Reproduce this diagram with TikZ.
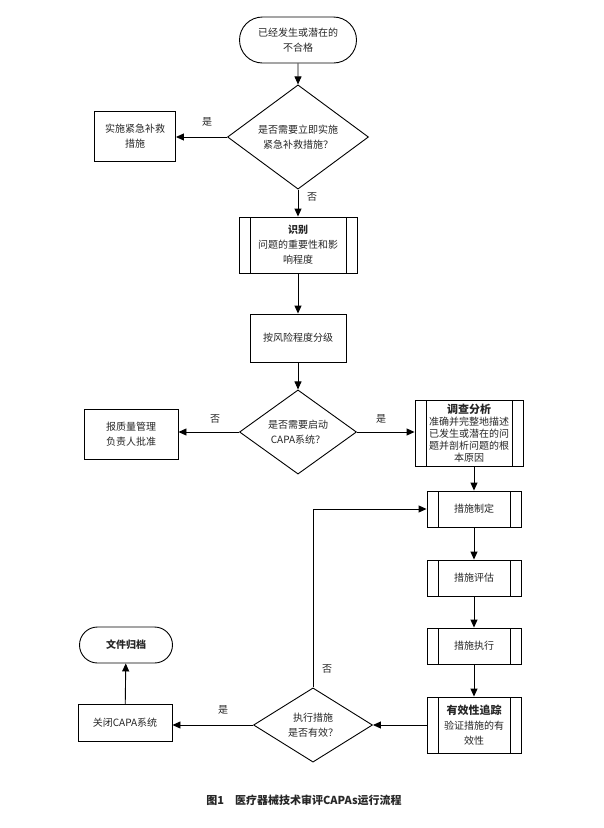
\documentclass[tikz,border=0pt]{standalone}
\usepackage{fontspec}
\setmainfont{Noto Sans CJK SC}
\usetikzlibrary{arrows.meta,shapes.geometric,shapes.misc}

\tikzset{
  every node/.style={font=\fontsize{10}{15}\selectfont, text=black!85},
  flow/.style={line width=0.9pt, -{Triangle[length=8pt,width=7pt]}},
  term/.style={draw, line width=0.9pt, rounded rectangle, align=center, inner sep=0pt},
  decide/.style={draw, line width=0.9pt, diamond, align=center, inner sep=0pt},
  box/.style={draw, line width=0.9pt, align=center, inner sep=0pt},
  procbox/.style={box, path picture={
      \draw[line width=0.9pt] ([xshift=11pt]path picture bounding box.north west) -- ([xshift=11pt]path picture bounding box.south west);
      \draw[line width=0.9pt] ([xshift=-11pt]path picture bounding box.north east) -- ([xshift=-11pt]path picture bounding box.south east);}},
  lbl/.style={font=\fontsize{10}{12}\selectfont}
}

\begin{document}
\begin{tikzpicture}[x=1pt,y=-1pt]
\useasboundingbox (0,0) rectangle (604,828);

\node[term, minimum width=117pt, minimum height=46pt] (start) at (298,40) {已经发生或潜在的\\不合格};
\node[decide, minimum width=141pt, minimum height=82pt] (urgent) at (298,137) {是否需要立即实施\\紧急补救措施？};
\node[box, minimum width=81pt, minimum height=50pt] (remedy) at (135,136) {实施紧急补救\\措施};
\node[procbox, minimum width=118pt, minimum height=56pt] (ident) at (298,245) {\textbf{识别}\\问题的重要性和影\\响程度};
\node[box, minimum width=96pt, minimum height=48pt] (grade) at (298,338) {按风险程度分级};
\node[decide, minimum width=117pt, minimum height=77pt] (launch) at (298,432) {是否需要启动\\CAPA系统？};
\node[box, minimum width=94pt, minimum height=50pt] (report) at (131,434) {报质量管理\\负责人批准};
\node[procbox, minimum width=108pt, minimum height=66pt, font=\fontsize{10}{12}\selectfont] (invest) at (469,433) {\textbf{\fontsize{11}{13}\selectfont 调查分析}\\准确并完整地描述\\已发生或潜在的问\\题并剖析问题的根\\本原因};
\node[procbox, minimum width=94pt, minimum height=36pt] (plan) at (474,509) {措施制定};
\node[procbox, minimum width=94pt, minimum height=36pt] (assess) at (474,578) {措施评估};
\node[procbox, minimum width=94pt, minimum height=36pt] (exec) at (474,646) {措施执行};
\node[procbox, minimum width=94pt, minimum height=56pt] (track) at (474,725) {\textbf{\fontsize{11}{14}\selectfont 有效性追踪}\\验证措施的有\\效性};
\node[decide, minimum width=119pt, minimum height=70pt] (valid) at (313,725) {执行措施\\是否有效？};
\node[box, minimum width=94pt, minimum height=37pt] (close) at (125,723) {关闭CAPA系统};
\node[term, minimum width=93pt, minimum height=36pt] (archive) at (126,645) {\textbf{文件归档}};

\node[lbl] (yes1) at (207,122) {是};
\node[lbl] (no1) at (312,197) {否};
\node[lbl] (no2) at (215,419) {否};
\node[lbl] (yes2) at (381,419) {是};
\node[lbl] (no3) at (327,669) {否};
\node[lbl] (yes3) at (223,710) {是};

\draw[flow] (start) -- (urgent);
\draw[flow] (urgent.west) -- (urgent.west -| remedy.east);
\draw[flow] (urgent) -- (ident);
\draw[flow] (ident) -- (grade);
\draw[flow] (grade) -- (launch);
\draw[flow] (launch.west) -- (launch.west -| report.east);
\draw[flow] (launch.east) -- (launch.east -| invest.west);
\draw[flow] (plan.north |- invest.south) -- (plan);
\draw[flow] (plan) -- (assess);
\draw[flow] (assess) -- (exec);
\draw[flow] (exec) -- (track);
\draw[flow] (track) -- (valid);
\draw[flow] (valid.west) -- (valid.west -| close.east);
\draw[flow] (close) -- (archive);
\draw[flow] (valid.north) |- (plan.west);

\node[font=\fontsize{11}{13}\selectfont\bfseries] (caption) at (304,800) {图1\quad 医疗器械技术审评CAPAs运行流程};
\end{tikzpicture}
\end{document}
